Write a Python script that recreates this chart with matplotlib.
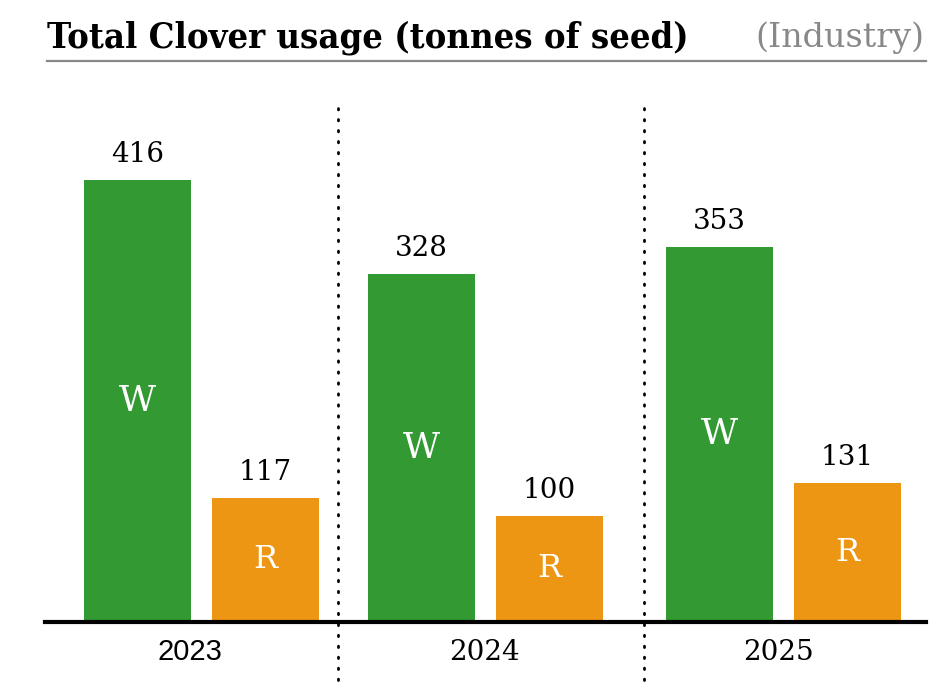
import matplotlib
matplotlib.use("Agg")
import matplotlib.pyplot as plt

years = ["2023", "2024", "2025"]
white_clover = [416, 328, 353]
red_clover = [117, 100, 131]
bar_letters = ["W", "R"]

# layout (pixel-like x units)
group_centers = [201.5, 485.5, 783.5]
year_label_x = [190, 484, 778]
separator_x = [338, 644]
bar_offset = 64
bar_width = 107
letter_sizes = [26, 23]

GREEN = "#339933"
ORANGE = "#EC9614"
SERIF = "DejaVu Serif"

W, H = 953, 697
fig = plt.figure(figsize=(W / 100, H / 100), dpi=100)

ax_left, ax_right, ax_bottom, ax_top = 45, 926, 622, 108
ax = fig.add_axes([ax_left / W, (H - ax_bottom) / H, (ax_right - ax_left) / W, (ax_bottom - ax_top) / H])
ax.set_xlim(ax_left, ax_right)
ax.set_ylim(0, (ax_bottom - ax_top) / 1.0625)
ax.axis("off")

wx = [c - bar_offset for c in group_centers]
rx = [c + bar_offset for c in group_centers]
bw = ax.bar(wx, white_clover, width=bar_width, color=GREEN, zorder=2)
br = ax.bar(rx, red_clover, width=bar_width, color=ORANGE, zorder=2)

for bars, vals, letter, ls in [(bw, white_clover, bar_letters[0], letter_sizes[0]),
                               (br, red_clover, bar_letters[1], letter_sizes[1])]:
    for b, v in zip(bars, vals):
        cx = b.get_x() + b.get_width() / 2
        ax.annotate(f"{v}", (cx, v), xytext=(0, 8.5), textcoords="offset points",
                    ha="center", va="bottom", fontsize=20, family=SERIF, color="black")
        ax.text(cx, v / 2, letter, ha="center", va="center", fontsize=ls,
                family=SERIF, color="white")

# baseline
ax.axhline(0, color="black", lw=3, zorder=3, clip_on=False)

# separators
ymin = -(680 - ax_bottom) / (ax_bottom - ax_top)
for sx in separator_x:
    ax.axvline(sx, ymin=ymin, ymax=1, color="black", lw=2.0,
               linestyle=(0, (0.5, 3.45)), dash_capstyle="round", clip_on=False)

# year labels
for i, (yx, yl) in enumerate(zip(year_label_x, years)):
    fam = "Liberation Sans" if i == 0 else SERIF
    fs = 21 if i == 0 else 20
    ax.text(yx, -(652 - ax_bottom) / 1.0625, yl, ha="center", va="center",
            fontsize=fs, family=fam, color="black")

# title
fig.text(47 / W, 1 - 38 / H, "Total Clover usage (tonnes of seed)", ha="left", va="center",
         fontsize=26, family=SERIF, fontweight="bold", fontstretch="condensed")
fig.text(924 / W, 1 - 38 / H, "(Industry)", ha="right", va="center",
         fontsize=24, family=SERIF, color="#888888")
fig.add_artist(plt.Line2D([47 / W, 926 / W], [1 - 61 / H, 1 - 61 / H], color="#888888", lw=1.6))

fig.savefig("out.png", dpi=100)
